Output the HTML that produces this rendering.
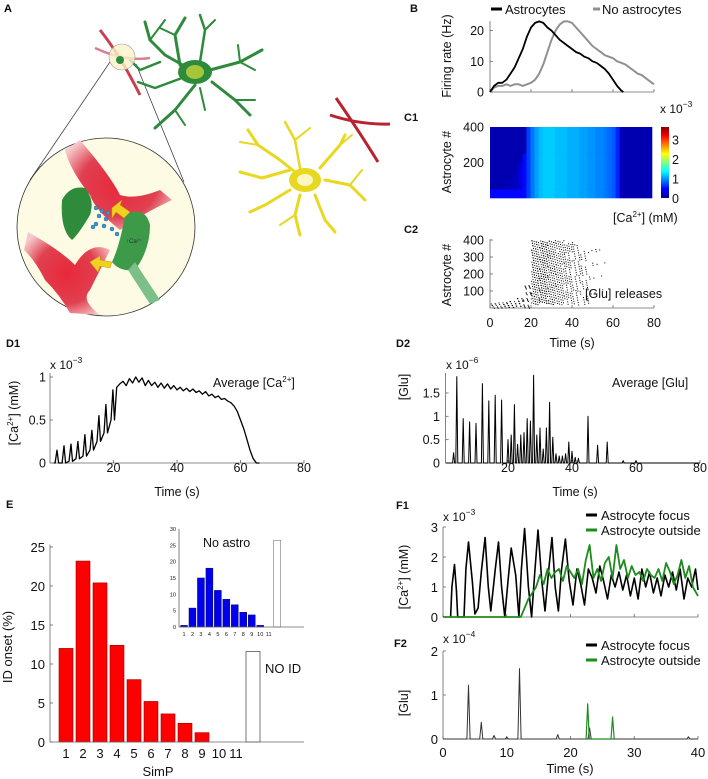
<!DOCTYPE html>
<html><head><meta charset="utf-8">
<style>
html,body{margin:0;padding:0;background:#fff;}
svg{display:block;font-family:"Liberation Sans",Arial,sans-serif;}
</style></head>
<body>
<svg id="fig" width="708" height="779" viewBox="0 0 708 779" xmlns="http://www.w3.org/2000/svg">
<defs>
<radialGradient id="redg" cx="50%" cy="50%" r="60%"><stop offset="0" stop-color="#e8283a"/><stop offset="0.6" stop-color="#e04050"/><stop offset="1" stop-color="#f6c8cc"/></radialGradient>
<linearGradient id="jet" x1="0" y1="1" x2="0" y2="0">
<stop offset="0" stop-color="#00008f"/><stop offset="0.125" stop-color="#0000ff"/><stop offset="0.375" stop-color="#00ffff"/><stop offset="0.625" stop-color="#ffff00"/><stop offset="0.875" stop-color="#ff0000"/><stop offset="1" stop-color="#800000"/>
</linearGradient>
</defs>

<!-- Panel A illustration -->
<g>
<text x="4" y="12" font-size="11" font-weight="bold">A</text>
<line x1="110" y1="62" x2="30" y2="180" stroke="#444" stroke-width="0.8"/>
<line x1="136" y1="64" x2="184" y2="182" stroke="#444" stroke-width="0.8"/>
<g fill="none" stroke="#2e8b3c" stroke-linecap="round" stroke-linejoin="round">
<polyline points="195,72 165,55 150,40 145,22" stroke-width="3"/>
<polyline points="150,40 165,20" stroke-width="2"/>
<polyline points="180,65 175,35 185,18" stroke-width="3"/>
<polyline points="175,35 160,28" stroke-width="2"/>
<polyline points="200,62 205,30 200,15" stroke-width="2.5"/>
<polyline points="205,30 215,20" stroke-width="2"/>
<polyline points="210,70 240,62 262,50" stroke-width="3"/>
<polyline points="240,62 255,70" stroke-width="2"/>
<polyline points="240,62 238,45" stroke-width="2"/>
<polyline points="212,82 235,100 250,115" stroke-width="3"/>
<polyline points="235,100 255,100" stroke-width="2"/>
<polyline points="195,85 175,110 155,128" stroke-width="3"/>
<polyline points="175,110 185,125" stroke-width="2"/>
<polyline points="182,78 155,88 138,82" stroke-width="2.5"/>
<polyline points="160,62 140,70 130,60" stroke-width="2.5"/>
<polyline points="200,88 205,110" stroke-width="2"/>
</g>
<ellipse cx="195" cy="72" rx="17" ry="12" fill="#2e8b3c"/>
<ellipse cx="195" cy="72" rx="9" ry="7" fill="#a5c63b"/>
<g fill="none" stroke="#e8d820" stroke-linecap="round" stroke-linejoin="round">
<polyline points="305,180 280,160 258,145 248,130" stroke-width="3"/>
<polyline points="258,145 240,142" stroke-width="2"/>
<polyline points="290,170 262,178 240,172" stroke-width="3"/>
<polyline points="290,190 265,205 250,212" stroke-width="3"/>
<polyline points="300,195 295,215 300,235" stroke-width="3"/>
<polyline points="295,215 280,225" stroke-width="2"/>
<polyline points="315,195 325,220 335,232" stroke-width="3"/>
<polyline points="325,180 350,185 365,200" stroke-width="3"/>
<polyline points="350,185 362,170" stroke-width="2"/>
<polyline points="320,168 340,145 345,135" stroke-width="3"/>
<polyline points="340,145 352,135" stroke-width="2"/>
<polyline points="300,168 295,140 285,122" stroke-width="2.5"/>
<polyline points="295,140 310,128" stroke-width="2"/>
</g>
<ellipse cx="305" cy="180" rx="16" ry="12" fill="#e8d820"/>
<ellipse cx="305" cy="180" rx="8" ry="6" fill="#fcf6c0"/>
<path d="M336,98 Q355,125 378,162" fill="none" stroke="#b8232e" stroke-width="3"/>
<path d="M330,115 Q360,125 390,124" fill="none" stroke="#b8232e" stroke-width="3"/>
<path d="M100,30 Q120,55 140,95" fill="none" stroke="#c84050" stroke-width="3"/>
<path d="M95,48 Q125,62 150,58" fill="none" stroke="#d88090" stroke-width="2.5"/>
<circle cx="122" cy="57" r="13" fill="#fbf3c8" fill-opacity="0.8" stroke="#999" stroke-width="0.6"/>
<circle cx="120" cy="60" r="4" fill="#2e8b3c"/>
<circle cx="106" cy="227" r="89" fill="#fdfbe3" stroke="#333" stroke-width="0.8"/>
<path d="M80,140 Q110,175 120,195 Q135,200 160,190 L172,200 Q140,215 120,230 Q95,210 90,195 Q70,170 65,150 Z" fill="url(#redg)"/>
<path d="M28,232 Q60,250 75,265 Q90,240 110,250 Q100,270 90,290 Q80,300 100,315 L70,313 Q60,295 45,280 Q35,260 24,250 Z" fill="url(#redg)"/>
<path d="M62,200 Q70,185 85,188 Q95,200 90,215 Q78,235 72,240 Q60,230 62,200 Z" fill="#2e8b3c"/>
<path d="M125,215 Q145,205 150,225 Q150,250 135,270 Q120,272 112,262 Q120,245 125,215 Z" fill="#3c9a48"/>
<path d="M135,262 L160,300 L150,304 L128,270 Z" fill="#7cbf88"/>
<path d="M112,208 L122,200 L120,205 L130,212 L124,218 L116,212 L112,218 Z" fill="#f0d020" stroke="#c8a800" stroke-width="0.5"/>
<path d="M90,262 L100,256 L100,260 L112,262 L110,268 L100,266 L98,272 Z" fill="#f0d020" stroke="#c8a800" stroke-width="0.5"/>
<g fill="#3a9ad0" stroke="#1a5a90" stroke-width="0.4">
<circle cx="96" cy="208" r="2"/><circle cx="102" cy="211" r="2"/><circle cx="108" cy="213" r="2"/><circle cx="99" cy="216" r="2"/><circle cx="106" cy="219" r="2"/><circle cx="96" cy="224" r="2"/><circle cx="104" cy="226" r="2"/><circle cx="112" cy="229" r="2"/><circle cx="117" cy="234" r="2"/><circle cx="93" cy="227" r="2"/>
</g>
<text x="126" y="243" font-size="6" fill="#333">↑Ca²⁺</text>
</g>

<g id="charts"></g>
</svg>

<script>
// ---------- DATA ----------
const bTimes = [0,2,4,6,8,10,12,14,16,18,20,22,24,26,28,30,32,34,36,38,40,42,44,46,48,50,52,54,56,58,60,62,64,65];
const bAstro = [0,2,3,3,4,6,8,11,14,18,21,22.5,23,22.5,21,20,18.5,17,16,15,14,13,12.5,11.5,11,10,9.5,8.5,7.5,6,4,2,0.5,0];
const bTimesNo = [0,2,4,6,8,10,12,14,16,18,20,22,24,26,28,30,32,34,36,38,40,42,44,46,48,50,52,54,56,58,60,62,64,66,68,70,72,74,76,78,80];
const bNoAstro = [0,1.5,2,2,2.5,2,2.5,2.5,2,2.5,3,4,6,9,13,17,20,22,23,23,22.5,21,19.5,18,16.5,15,14,13,12,11.5,11,10,9.5,9,8,7,6,5.5,4.5,3.5,2.5];
const bYTicks = [0,10,20];
const c1Cols = [0.1,0.12,0.12,0.12,0.12,0.14,0.16,0.25,0.4,0.6,0.8,0.95,1.05,1.1,1.1,1.1,1.05,1.05,1.05,1.0,1.0,1.0,0.95,0.95,0.9,0.9,0.85,0.85,0.8,0.75,0.7,0.5,0.15,0.1,0.1,0.1,0.1,0.1,0.1,0.1];
const c1RowOnset = [2,8,12,15,17,18,19,19.5];
const c1CbTicks = [0,1,2,3];
const c2Counts = [10,12,14,16,30,150,170,130,100,80,55,35,12,4,0,0,0,0,0,0];
const c2YMin = [0,0,0,0,0,20,30,20,20,20,20,20,30,40,0,0,0,0,0,0];
const c2YMax = [35,40,45,60,150,400,400,400,400,390,380,370,360,350,0,0,0,0,0,0];
const c2YTicks = [100,200,300,400];
const timeTicks80 = [0,20,40,60,80];
const d1PeakT = [2.2,4.4,6.6,8.8,11,13.2,15.4,17.6,19.8];
const d1Peaks = [0.15,0.2,0.22,0.25,0.33,0.38,0.55,0.68,0.85];
const d1Troughs = [0,0,0.02,0.05,0.08,0.15,0.25,0.35,0.5];
const d1PlateauStart = 21;
const d1Plateau = [0.88,0.92,0.95,0.9,0.98,0.93,1.0,0.94,0.99,0.9,0.96,0.9,0.94,0.88,0.93,0.87,0.92,0.86,0.9,0.85,0.88,0.84,0.87,0.83,0.86,0.82,0.84,0.8,0.83,0.78,0.8,0.76,0.78,0.74,0.75,0.72,0.7,0.66,0.6,0.5,0.4,0.28,0.15,0.05,0,0];
const d1YTicks = [0,0.5,1];
const d2SpikeT = [3,4,6,8,10,12,14,16,18,20,21,22,23,24,25,26,27,28,29,30,31,32,33,34,35,36,37,38,39,40,41,42,45,48,51,56,60];
const d2SpikeV = [0.22,1.85,0.95,0.88,0.85,1.7,1.33,1.45,1.35,0.5,0.6,1.25,0.4,0.6,0.65,0.95,0.9,1.88,0.6,0.75,0.3,0.75,1.3,0.55,0.2,0.15,0.15,0.2,0.45,0.25,0.12,0.1,1.0,0.38,0.45,0.05,0.05];
const d2YTicks = [0,0.5,1,1.5];
const eCats = ["1","2","3","4","5","6","7","8","9","10","11"];
const eAstro = [12,23.2,20.4,12.4,8,5.2,3.6,2.4,1.2,0,0];
const eAstroNoID = 11.6;
const eNoAstro = [0.5,5.8,15,18,11.2,8.5,6.8,4.5,3.7,0.5,0];
const eNoAstroNoID = 26.5;
const eYTicks = [0,5,10,15,20,25];
const eInsetYTicks = [0,5,10,15,20,25,30];
const f1FocusT = [1.2,1.4,1.8,2.1,2.3,3.3,3.6,4.0,4.6,5.0,5.5,6.0,6.6,7.1,7.5,8.2,8.7,9.2,9.7,10.2,10.7,11.4,11.9,12.3,12.8,13.4,13.9,14.4,14.9,15.5,16.0,16.6,17.1,17.6,18.1,18.6,19.2,19.8,20.4,21,21.6,22.2,22.8,23.4,24,24.6,25.2,25.8,26.4,27,27.6,28.2,28.8,29.4,30,30.6,31.2,31.8,32.4,33,33.6,34.2,34.8,35.4,36,36.6,37.2,37.8,38.4,39,39.6,40];
const f1FocusV = [0,1.0,1.75,0.9,0,0,1.6,2.5,1.2,0.1,0.3,1.5,2.65,1.0,0.2,1.6,2.5,1.0,0,1.2,2.3,1.4,0,1.6,2.95,1.0,0,1.5,2.9,1.2,0.2,1.6,2.65,1.0,0.2,1.6,2.6,1.2,0.4,1.6,1.1,0.4,1.6,1.3,0.8,1.7,1.2,0.6,1.4,1.0,1.5,0.9,1.4,0.7,1.3,0.6,1.6,1.0,1.5,0.8,1.3,0.7,1.4,1.0,1.5,0.9,1.6,0.6,1.3,1.0,1.6,0.9];
const f1OutT = [0,12.2,12.8,13.4,14,14.6,15.2,15.8,16.4,17,17.6,18.2,18.8,19.4,20,20.6,21.2,21.8,22.4,23,23.6,24.2,24.8,25.4,26,26.6,27.2,27.8,28.4,29,29.6,30.2,30.8,31.4,32,32.6,33.2,33.8,34.4,35,35.6,36.2,36.8,37.4,38,38.6,39.2,40];
const f1OutV = [0,0,0.3,0.6,0.8,1.0,1.4,1.1,1.6,1.3,1.5,1.6,1.2,1.7,1.5,1.3,1.6,1.1,1.9,2.4,1.3,1.6,1.2,1.8,2.0,1.3,2.4,1.6,1.9,1.3,1.7,1.4,1.5,1.2,1.6,1.4,1.3,1.6,1.2,1.8,1.5,1.1,1.4,1.9,1.3,1.7,1.0,0.7];
const f1YTicks = [0,1,2,3];
const f2FocusT = [4,6,8,10,12,18,23,38.5];
const f2FocusV = [1.22,0.38,0.08,0.04,1.6,0.1,0.25,0.05];
const f2OutT = [22.7,26.6];
const f2OutV = [0.8,0.5];
const f2YTicks = [0,1,2];
const timeTicks40 = [0,10,20,30,40];

// ---------- helpers ----------
const NS = "http://www.w3.org/2000/svg";
const root = document.getElementById('charts');
function mk(tag, attrs, parent, name){
  const el = document.createElementNS(NS, tag);
  for (const k in attrs) el.setAttribute(k, attrs[k]);
  
  
  (parent || root).appendChild(el);
  return el;
}
function grp(name){ return mk('g', {}, root, name); }
function txt(g, x, y, s, size, anchor, name, extra){
  const a = {x:x, y:y, 'font-size':size, 'text-anchor':anchor||'start', fill:'#111'};
  if (extra) for (const k in extra) a[k]=extra[k];
  const t = mk('text', a, g, name);
  t.textContent = s;
  return t;
}
function supText(g, x, y, base, sup, size, name, anchor){
  const t = mk('text', {x:x, y:y, 'font-size':size, 'text-anchor':anchor||'start', fill:'#111'}, g, name);
  const t1 = document.createElementNS(NS,'tspan'); t1.textContent = base; t.appendChild(t1);
  const t2 = document.createElementNS(NS,'tspan'); t2.setAttribute('dy', -6); t2.setAttribute('font-size', size*0.7); t2.textContent = sup; t.appendChild(t2);
  return t;
}
function ln(g,x1,y1,x2,y2,name,col,w){ return mk('line',{x1:x1,y1:y1,x2:x2,y2:y2,stroke:col||'#666','stroke-width':w||0.8},g,name); }
function vlabel(g, cx, cy, parts, size, name){
  const t = mk('text', {x:0, y:0, 'font-size':size, 'text-anchor':'middle', fill:'#111', transform:`translate(${cx},${cy}) rotate(-90)`}, g, name);
  parts.forEach(p=>{ const s=document.createElementNS(NS,'tspan'); s.textContent=p[0]; t.appendChild(s); });
  return t;
}
function axes(g, x0, x1, y0, y1){
  ln(g,x0,y0,x1,y0,'x-axis'); ln(g,x0,y0,x0,y1,'y-axis');
}
function poly(g, pts, col, w, name){
  return mk('polyline',{points:pts.map(p=>p[0].toFixed(1)+','+p[1].toFixed(1)).join(' '),fill:'none',stroke:col,'stroke-width':w,'stroke-linejoin':'round'},g,name);
}
function jet(v){
  v=Math.max(0,Math.min(1,v));
  const r=Math.max(0,Math.min(1,1.5-Math.abs(4*v-3)));
  const gg=Math.max(0,Math.min(1,1.5-Math.abs(4*v-2)));
  const b=Math.max(0,Math.min(1,1.5-Math.abs(4*v-1)));
  return `rgb(${Math.round(r*255)},${Math.round(gg*255)},${Math.round(b*255)})`;
}

// ---------- Panel B ----------
(function(){
  const g = grp('panel-b-firing-rate');
  const X = t => 490 + t*164/80, Y = v => 92 - v*3.07;
  txt(g, 410, 12, 'B', 11, 'start', 'panel-label-b', {'font-weight':'bold'});
  axes(g, X(0), X(80), Y(0), 21);
  bYTicks.forEach(v=>{ ln(g,X(0),Y(v),X(0)+3,Y(v),'y-tick'); txt(g,484,Y(v)+4.5,String(v),12.5,'end','y-tick-label'); });
  timeTicks80.forEach(t=>ln(g,X(t),Y(0),X(t),Y(0)-3,'x-tick'));
  vlabel(g, 451, 56, [['Firing rate (Hz)']], 12.5, 'y-axis-title');
  poly(g, bTimesNo.map((t,i)=>[X(t),Y(bNoAstro[i])]), '#909090', 2, 'line-no-astrocytes');
  poly(g, bTimes.map((t,i)=>[X(t),Y(bAstro[i])]), '#000', 1.8, 'line-astrocytes');
  ln(g,491,9,502,9,'legend-swatch-astrocytes','#000',3);
  txt(g,505,14,'Astrocytes',13,'start','legend-label-astrocytes');
  ln(g,593,9,600,9,'legend-swatch-no-astrocytes','#909090',3);
  txt(g,602,14,'No astrocytes',13,'start','legend-label-no-astrocytes');
})();

// ---------- Panel C1 ----------
(function(){
  const g = grp('panel-c1-heatmap');
  const X = t => 490 + t*162/80, Y = n => 198 - n*71/400;
  txt(g, 404, 121, 'C1', 11, 'start', 'panel-label-c1', {'font-weight':'bold'});
  mk('rect',{x:490,y:127,width:162,height:71,fill:'#00008f'},g,'heatmap-background');
  c1RowOnset.forEach((on,r)=>{
    c1Cols.forEach((v,c)=>{
      const t = c*2;
      let val = t+2 > on ? v : 0.1;
      if (r===0 && t<18) val = 0.4;
      mk('rect',{x:X(t),y:Y((r+1)*50),width:X(2)-X(0)+0.3,height:Y(0)-Y(50)+0.3,fill:jet(val/3.6+0.02)},g,'heatmap-cell');
    });
  });
  mk('rect',{x:661,y:127,width:8,height:71,fill:'url(#jet)'},g,'colorbar');
  c1CbTicks.forEach(v=>txt(g,672,198-v*19.5+5,String(v),12.5,'start','colorbar-tick-label'));
  supText(g,660,113,'x 10','−3',12,'colorbar-exponent');
  [200,400].forEach(v=>txt(g,484,Y(v)+4.5,String(v),12.5,'end','y-tick-label'));
  vlabel(g, 451, 162, [['Astrocyte #']], 12.5, 'y-axis-title');
  const cl = mk('text',{x:613,y:222,'font-size':12.5,fill:'#111'},g,'colorbar-title');
  cl.innerHTML = '[Ca<tspan font-size="8" dy="-5">2+</tspan><tspan dy="5">] (mM)</tspan>';
})();

// ---------- Panel C2 ----------
(function(){
  const g = grp('panel-c2-raster');
  const X = t => 490 + t*164/80, Y = n => 308 - n*0.17;
  txt(g, 404, 233, 'C2', 11, 'start', 'panel-label-c2', {'font-weight':'bold'});
  axes(g, X(0), X(80), Y(0), Y(405));
  c2YTicks.forEach(v=>{ ln(g,X(0),Y(v),X(0)+3,Y(v),'y-tick'); txt(g,484,Y(v)+4.5,String(v),12.5,'end','y-tick-label'); });
  timeTicks80.forEach(t=>{ ln(g,X(t),Y(0),X(t),Y(0)-3,'x-tick'); txt(g,X(t),327,String(t),12.5,'middle','x-tick-label'); });
  txt(g,572,347,'Time (s)',12.5,'middle','x-axis-title');
  vlabel(g, 451, 275, [['Astrocyte #']], 12.5, 'y-axis-title');
  const dots = mk('g',{fill:'#000'},g,'release-events');
  let k = 0;
  c2Counts.forEach((n,b)=>{
    for (let j=0;j<n;j++){
      k++;
      const fx = (k*0.618034)%1, fy = (k*0.754878)%1;
      const t = b*4 + fx*4, yv = c2YMin[b] + fy*(c2YMax[b]-c2YMin[b]);
      mk('rect',{x:X(t).toFixed(1),y:Y(yv).toFixed(1),width:1,height:1},dots,'release-dot');
    }
  });
  txt(g,585,298,'[Glu] releases',12.5,'start','annotation-glu-releases');
})();

// ---------- Panel D1 ----------
(function(){
  const g = grp('panel-d1-average-ca');
  const X = t => 50 + t*254/80, Y = v => 463 - v*86;
  txt(g, 6, 347, 'D1', 11, 'start', 'panel-label-d1', {'font-weight':'bold'});
  axes(g, X(0), X(80), Y(0), 373);
  d1YTicks.forEach(v=>{ ln(g,X(0),Y(v),X(0)+3,Y(v),'y-tick'); txt(g,46,Y(v)+4.5,String(v),12.5,'end','y-tick-label'); });
  timeTicks80.slice(1).forEach(t=>{ ln(g,X(t),Y(0),X(t),Y(0)-3,'x-tick'); txt(g,X(t),472,String(t),12.5,'middle','x-tick-label'); });
  txt(g,177,496,'Time (s)',12.5,'middle','x-axis-title');
  supText(g,50,369,'x 10','−3',12,'y-exponent');
  const yl = mk('text',{x:0,y:0,'font-size':12.5,'text-anchor':'middle',fill:'#111',transform:'translate(18,413) rotate(-90)'},g,'y-axis-title');
  yl.innerHTML = '[Ca<tspan font-size="8" dy="-5">2+</tspan><tspan dy="5">] (mM)</tspan>';
  const at = mk('text',{x:213,y:387,'font-size':12.5,fill:'#111'},g,'annotation-average-ca');
  at.innerHTML = 'Average [Ca<tspan font-size="8" dy="-5">2+</tspan><tspan dy="5">]</tspan>';
  const pts = [[X(1.2),Y(0)]];
  d1PeakT.forEach((t,i)=>{ pts.push([X(t-0.6),Y(d1Troughs[i])]); pts.push([X(t),Y(d1Peaks[i])]); pts.push([X(t+0.5),Y(d1Troughs[i])]); });
  d1Plateau.forEach((v,i)=>pts.push([X(d1PlateauStart+i),Y(v)]));
  poly(g, pts, '#000', 1.3, 'line-average-ca');
})();

// ---------- Panel D2 ----------
(function(){
  const g = grp('panel-d2-average-glu');
  const X = t => 444 + t*256/80, Y = v => 463 - v*46.7;
  txt(g, 396, 347, 'D2', 11, 'start', 'panel-label-d2', {'font-weight':'bold'});
  axes(g, X(0.5), X(80), Y(0), 373);
  d2YTicks.forEach(v=>{ ln(g,X(0.5),Y(v),X(0.5)+3,Y(v),'y-tick'); txt(g,440,Y(v)+4.5,String(v),12.5,'end','y-tick-label'); });
  timeTicks80.slice(1).forEach(t=>{ ln(g,X(t),Y(0),X(t),Y(0)-3,'x-tick'); txt(g,X(t),472,String(t),12.5,'middle','x-tick-label'); });
  txt(g,575,496,'Time (s)',12.5,'middle','x-axis-title');
  supText(g,446,369,'x 10','−6',12,'y-exponent');
  vlabel(g, 408, 387, [['[Glu]']], 12.5, 'y-axis-title');
  txt(g,612,387,'Average [Glu]',12.5,'start','annotation-average-glu');
  const pts = [[X(0.5),Y(0)]];
  d2SpikeT.forEach((t,i)=>{ pts.push([X(t-0.3),Y(0)]); pts.push([X(t),Y(d2SpikeV[i])]); pts.push([X(t+0.3),Y(0)]); });
  pts.push([X(80),Y(0)]);
  poly(g, pts, '#000', 1, 'line-average-glu');
})();

// ---------- Panel E ----------
(function(){
  const g = grp('panel-e-histogram');
  const X = i => 66 + i*17, Y = v => 742 - v*7.8;
  txt(g, 6, 508, 'E', 11, 'start', 'panel-label-e', {'font-weight':'bold'});
  eAstro.forEach((v,i)=>{ if(v>0) mk('rect',{x:X(i)-7,y:Y(v),width:14,height:Y(0)-Y(v),fill:'#ff0000',stroke:'#900',"stroke-width":0.6},g,'bar-simp-'+eCats[i]); });
  mk('rect',{x:X(11)-7,y:Y(eAstroNoID),width:14,height:Y(0)-Y(eAstroNoID),fill:'#fff',stroke:'#555','stroke-width':0.8},g,'bar-no-id');
  axes(g, 50, 304, Y(0), Y(25.3));
  eYTicks.forEach(v=>{ ln(g,50,Y(v),53,Y(v),'y-tick'); txt(g,45,Y(v)+5,String(v),13,'end','y-tick-label'); });
  eCats.forEach((c,i)=>txt(g,X(i),758,c,13,'middle','x-tick-label'));
  txt(g,158,776,'SimP',13,'middle','x-axis-title');
  vlabel(g, 12, 647, [['ID onset (%)']], 13, 'y-axis-title');
  txt(g,265,673,'NO ID',13,'start','annotation-no-id');
  const ig = grp('inset-no-astro');
  const XI = i => 184 + i*8.47, YI = v => 627 - v*3.27;
  eNoAstro.forEach((v,i)=>{ if(v>0) mk('rect',{x:XI(i)-3.5,y:YI(v),width:7,height:YI(0)-YI(v),fill:'#0000ee',stroke:'#003',"stroke-width":0.4},ig,'inset-bar-simp-'+eCats[i]); });
  mk('rect',{x:XI(11)-3.5,y:YI(eNoAstroNoID),width:7,height:YI(0)-YI(eNoAstroNoID),fill:'#fff',stroke:'#777','stroke-width':0.6},ig,'inset-bar-no-id');
  axes(ig, 179, 304, YI(0), YI(30));
  eInsetYTicks.forEach(v=>txt(ig,176,YI(v)+2,String(v),5.5,'end','inset-y-tick-label'));
  eCats.forEach((c,i)=>txt(ig,XI(i),636,c,5.5,'middle','inset-x-tick-label'));
  txt(ig,203,547,'No astro',12.5,'start','inset-title');
})();

// ---------- Panel F1 ----------
(function(){
  const g = grp('panel-f1-ca-traces');
  const X = t => 443 + t*6.375, Y = v => 617 - v*30;
  txt(g, 396, 509, 'F1', 11, 'start', 'panel-label-f1', {'font-weight':'bold'});
  axes(g, X(0), X(40), Y(0), Y(3));
  f1YTicks.forEach(v=>{ ln(g,X(0),Y(v),X(0)+3,Y(v),'y-tick'); txt(g,438,Y(v)+5,String(v),13,'end','y-tick-label'); });
  timeTicks40.forEach(t=>ln(g,X(t),Y(0),X(t),Y(0)-3,'x-tick'));
  supText(g,443,521,'x 10','−3',12,'y-exponent');
  const yl = mk('text',{x:0,y:0,'font-size':12.5,'text-anchor':'middle',fill:'#111',transform:'translate(408,577) rotate(-90)'},g,'y-axis-title');
  yl.innerHTML = '[Ca<tspan font-size="8" dy="-5">2+</tspan><tspan dy="5">] (mM)</tspan>';
  poly(g, f1FocusT.map((t,i)=>[X(t),Y(f1FocusV[i])]), '#000', 1.6, 'line-astrocyte-focus');
  poly(g, f1OutT.map((t,i)=>[X(t),Y(f1OutV[i])]), '#1e8c1e', 1.8, 'line-astrocyte-outside');
  ln(g,586,515,597,515,'legend-swatch-focus','#000',3);
  txt(g,601,520,'Astrocyte focus',13,'start','legend-label-focus');
  ln(g,586,530,597,530,'legend-swatch-outside','#1e8c1e',3);
  txt(g,601,535,'Astrocyte outside',13,'start','legend-label-outside');
})();

// ---------- Panel F2 ----------
(function(){
  const g = grp('panel-f2-glu-traces');
  const X = t => 443 + t*6.375, Y = v => 739 - v*44;
  txt(g, 394, 647, 'F2', 11, 'start', 'panel-label-f2', {'font-weight':'bold'});
  axes(g, X(0), X(40), Y(0), Y(2));
  f2YTicks.forEach(v=>{ ln(g,X(0),Y(v),X(0)+3,Y(v),'y-tick'); txt(g,438,Y(v)+5,String(v),13,'end','y-tick-label'); });
  timeTicks40.forEach(t=>{ ln(g,X(t),Y(0),X(t),Y(0)-3,'x-tick'); txt(g,X(t),757,String(t),13,'middle','x-tick-label'); });
  txt(g,570,773,'Time (s)',13,'middle','x-axis-title');
  supText(g,443,643,'x 10','−4',12,'y-exponent');
  vlabel(g, 408, 703, [['[Glu]']], 12.5, 'y-axis-title');
  const fp=[[X(0),Y(0)]]; f2FocusT.forEach((t,i)=>{fp.push([X(t-0.25),Y(0)]);fp.push([X(t),Y(f2FocusV[i])]);fp.push([X(t+0.25),Y(0)]);}); fp.push([X(40),Y(0)]);
  poly(g, fp, '#333', 1, 'line-astrocyte-focus');
  const op=[]; f2OutT.forEach((t,i)=>{op.push([X(t-0.25),Y(0)]);op.push([X(t),Y(f2OutV[i])]);op.push([X(t+0.25),Y(0)]);});
  poly(g, op, '#1e8c1e', 1.2, 'line-astrocyte-outside');
  ln(g,586,645,597,645,'legend-swatch-focus','#000',3);
  txt(g,601,650,'Astrocyte focus',13,'start','legend-label-focus');
  ln(g,586,660,597,660,'legend-swatch-outside','#1e8c1e',3);
  txt(g,601,665,'Astrocyte outside',13,'start','legend-label-outside');
})();
</script>
</body></html>
